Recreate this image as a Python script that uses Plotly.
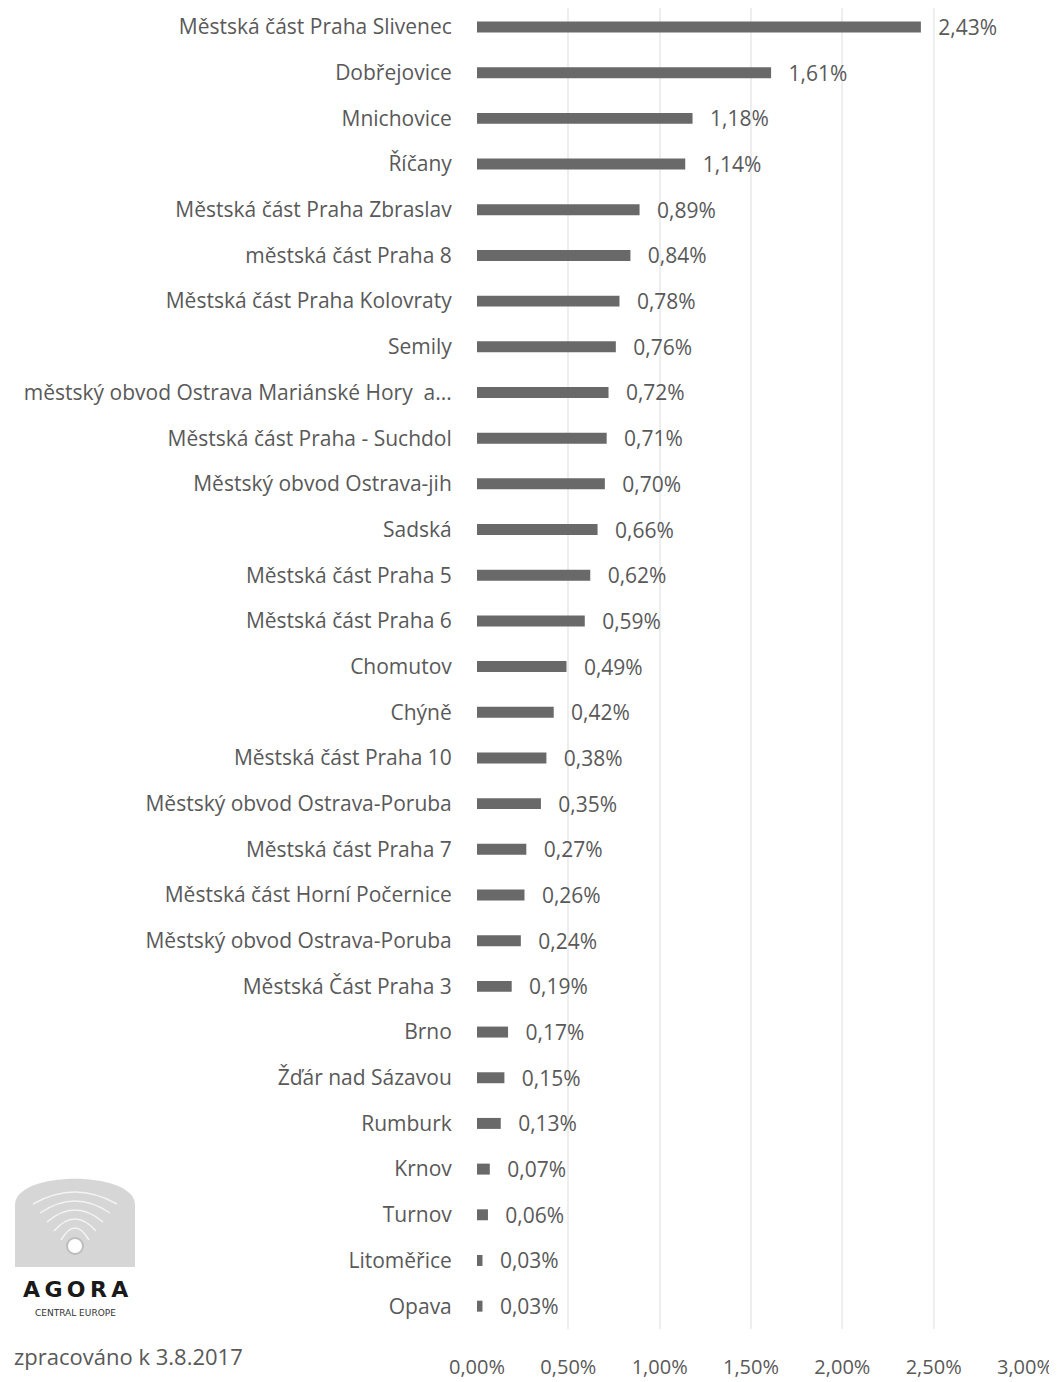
import plotly.graph_objects as go

categories = [
    "Městská část Praha Slivenec",
    "Dobřejovice",
    "Mnichovice",
    "Říčany",
    "Městská část Praha Zbraslav",
    "městská část Praha 8",
    "Městská část Praha Kolovraty",
    "Semily",
    "městský obvod Ostrava Mariánské Hory  a...",
    "Městská část Praha - Suchdol",
    "Městský obvod Ostrava-jih",
    "Sadská",
    "Městská část Praha 5",
    "Městská část Praha 6",
    "Chomutov",
    "Chýně",
    "Městská část Praha 10",
    "Městský obvod Ostrava-Poruba",
    "Městská část Praha 7",
    "Městská část Horní Počernice",
    "Městský obvod Ostrava-Poruba",
    "Městská Část Praha 3",
    "Brno",
    "Žďár nad Sázavou",
    "Rumburk",
    "Krnov",
    "Turnov",
    "Litoměřice",
    "Opava",
]
values = [2.43, 1.61, 1.18, 1.14, 0.89, 0.84, 0.78, 0.76, 0.72, 0.71, 0.70, 0.66,
          0.62, 0.59, 0.49, 0.42, 0.38, 0.35, 0.27, 0.26, 0.24, 0.19, 0.17, 0.15,
          0.13, 0.07, 0.06, 0.03, 0.03]
tick_values = [0, 0.005, 0.01, 0.015, 0.02, 0.025, 0.03]
footer_text = "zpracováno k 3.8.2017"

FONT = "Open Sans"
GREY_TXT = "#595959"
BAR = "#696969"

W, H = 1057, 1382
OFF = 8                      # page body margin
L, R, T, B = 469, 40, 0, 61
PW, PH = W - L - R, H - T - B
PLOT_LEFT_PAGE = L + OFF
PLOT_TOP_PAGE = T + OFF

def px(x):
    return (x - PLOT_LEFT_PAGE) / PW

def py(y):
    return 1 - (y - PLOT_TOP_PAGE) / PH

fracs = [v / 100 for v in values]
ypos = list(range(len(categories)))

fig = go.Figure()
fig.add_trace(go.Bar(
    x=fracs, y=ypos, orientation="h",
    marker=dict(color=BAR, line=dict(width=0)),
    texttemplate="\u00a0\u00a0\u2009%{x:.2%}", textposition="outside",
    constraintext="none",
    textfont=dict(family=FONT, size=21, color=GREY_TXT),
    cliponaxis=False, width=0.24,
))

# logo shapes
shapes = []
shapes.append(dict(
    type="path", xref="paper", yref="paper",
    path=(f"M {px(15)},{py(1267)} L {px(15)},{py(1205)} "
          f"C {px(15)},{py(1170)} {px(135)},{py(1170)} {px(135)},{py(1205)} "
          f"L {px(135)},{py(1267)} Z"),
    fillcolor="#d6d6d6", line=dict(width=0), layer="above",
))
for rx, top in [(42, 1188), (35, 1197), (28, 1206), (21, 1215), (14, 1224)]:
    shapes.append(dict(
        type="path", xref="paper", yref="paper",
        path=(f"M {px(75 - rx)},{py(top + 16)} "
              f"Q {px(75)},{py(top - 8)} {px(75 + rx)},{py(top + 16)}"),
        line=dict(color="#f3f3f3", width=1.5), layer="above",
    ))
shapes.append(dict(
    type="circle", xref="paper", yref="paper",
    x0=px(67), x1=px(83), y0=py(1254), y1=py(1238),
    fillcolor="#ffffff", line=dict(color="#bdbdbd", width=2), layer="above",
))

fig.update_layout(
    width=W, height=H,
    margin=dict(l=L, r=R, t=T, b=B, autoexpand=False),
    paper_bgcolor="white", plot_bgcolor="white",
    separators=", ",
    showlegend=False,
    shapes=shapes,
    xaxis=dict(
        range=[0, 0.03], tickvals=tick_values, tickformat=".2%",
        showgrid=True, gridcolor="#eeeeee", gridwidth=1.5,
        zeroline=False, showline=False, automargin=False,
        tickfont=dict(family=FONT, size=20, color=GREY_TXT),
        ticks="outside", ticklen=0, ticklabelstandoff=20,
    ),
    yaxis=dict(
        tickvals=ypos, ticktext=categories,
        range=[len(categories) - 0.5, -0.416],
        showgrid=False, zeroline=False, showline=False, automargin=False,
        tickfont=dict(family=FONT, size=21, color=GREY_TXT),
        ticks="outside", ticklen=0, ticklabelstandoff=20,
    ),
    annotations=[
        dict(text=footer_text, xref="paper", yref="paper",
             x=px(12), y=py(1356), xanchor="left", yanchor="middle",
             showarrow=False, font=dict(family=FONT, size=22, color=GREY_TXT)),
        dict(text="<b>A\u2009G\u2009O\u2009R\u2009A</b>", xref="paper", yref="paper",
             x=px(75), y=py(1289), xanchor="center", yanchor="middle",
             showarrow=False, font=dict(family="DejaVu Sans", size=22, color="#1a1a1a")),
        dict(text="CENTRAL EUROPE", xref="paper", yref="paper",
             x=px(75), y=py(1313), xanchor="center", yanchor="middle",
             showarrow=False, font=dict(family="DejaVu Sans", size=9, color="#333333")),
    ],
)

fig.write_html("out.html")
